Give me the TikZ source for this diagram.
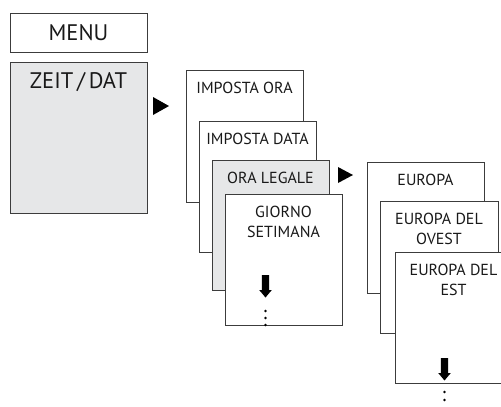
\documentclass[tikz,border=0pt]{standalone}
\usepackage{fontspec}
\setmainfont{PT Sans}
\usetikzlibrary{positioning}
\definecolor{boxgrey}{RGB}{230,231,232}
\definecolor{edgegrey}{RGB}{60,60,60}
\tikzset{
  downarrow/.pic={
      \fill (-3.7,0) -- (3.7,0) -- (3.7,15) -- (6.3,15) -- (0,22.5) -- (-6.3,15) -- (-3.7,15) -- cycle;
    }
}

\begin{document}
\begin{tikzpicture}[x=1pt, y=-1pt,
    menu/.style = {draw=edgegrey, line width=0.8pt, fill=white, anchor=north west, inner sep=0pt, outer sep=0pt},
    screen/.style = {menu, minimum width=117pt, minimum height=131pt},
    grey/.style = {fill=boxgrey},
    bigtxt/.style = {inner sep=0pt, font=\fontsize{22.5}{26}\selectfont, text=black!90},
    txt/.style = {inner sep=0pt, align=center, font=\fontsize{16}{20}\selectfont, text=black!90}]
  \useasboundingbox (0,0) rectangle (501,407);
  \clip (0,0) rectangle (501,407);

  % first column
  \node[menu, minimum width=137pt, minimum height=39pt](menubox) at (10,13){};
  \node[bigtxt] at (menubox.center){MENU};
  \node[menu, grey, minimum width=137pt, minimum height=151pt](zeit) at (10,62){};
  \node[bigtxt](zeittxt)[below=10pt of zeit.north]{ZEIT\,/\,DAT};
  \fill (153,97) -- (169,106) -- (153,115) -- cycle;

  % second column
  \node[screen, minimum height=132pt](ora) at (186,70){};
  \node[txt](oratxt)[below=12pt of ora.north]{IMPOSTA ORA};
  \node[screen](data) at (199,121){};
  \node[txt](datatxt)[below=12pt of data.north]{IMPOSTA DATA};
  \node[screen, grey, minimum height=130pt](legale) at (212,160){};
  \node[txt](legaletxt)[below=12pt of legale.north]{ORA LEGALE};
  \node[screen](giorno) at (225,194){};
  \node[txt](giornotxt)[below=12pt of giorno.north]{GIORNO\\SETIMANA};
  \pic at (265.5,275) {downarrow};
  \foreach \y in {311,318,325}
    \fill (265.5,\y) circle (1.4pt);
  \fill (338,167) -- (353,175) -- (338,183) -- cycle;

  % third column
  \node[screen](europa) at (367,162){};
  \node[txt](europatxt)[below=12pt of europa.north]{EUROPA};
  \node[screen, minimum width=118pt, minimum height=132pt](ovest) at (380,201){};
  \node[txt](ovesttxt)[below=12pt of ovest.north]{EUROPA DEL\\OVEST};
  \node[screen](est) at (395,252){};
  \node[txt](esttxt)[below=12pt of est.north]{EUROPA DEL\\EST};
  \pic at (444.5,358) {downarrow};
  \foreach \y in {392,400}
    \fill (444.5,\y) circle (1.4pt);
\end{tikzpicture}
\end{document}
